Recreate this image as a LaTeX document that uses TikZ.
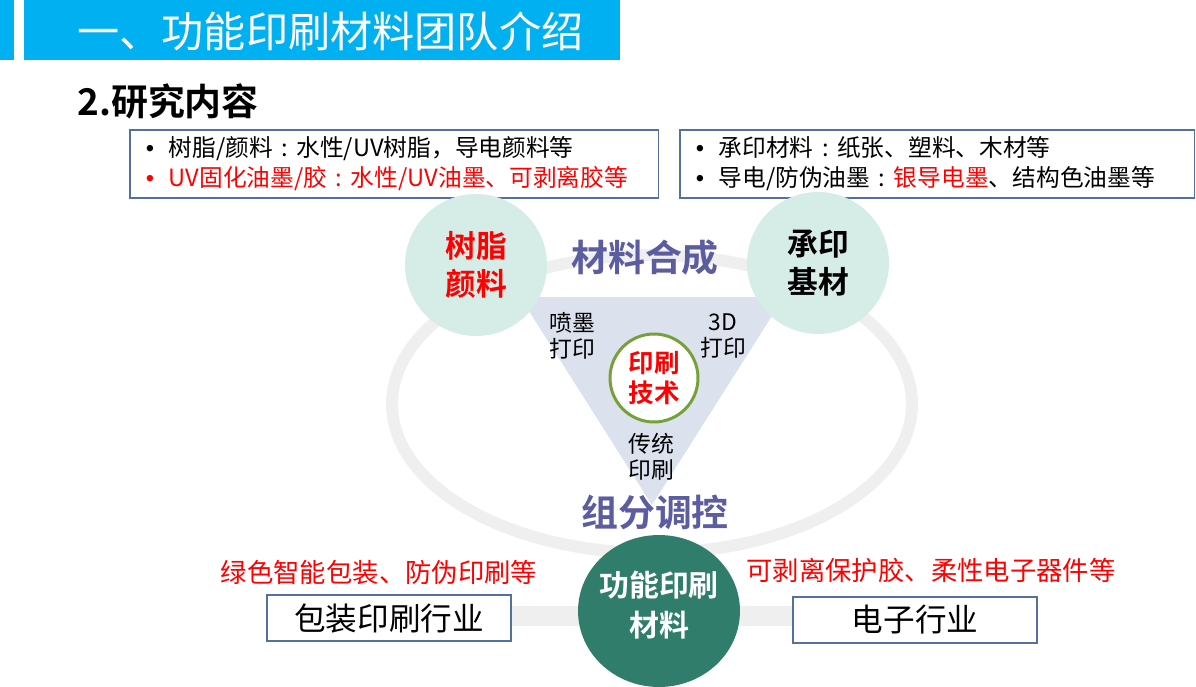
\documentclass[tikz,border=0pt]{standalone}
\usepackage{fontspec}
\setmainfont{Noto Sans CJK SC}[BoldFont={Noto Sans CJK SC Bold}]
\newfontfamily\dotfont{Liberation Sans}
\usepackage{xcolor}
\usetikzlibrary{shapes.geometric}

\definecolor{titleblue}{RGB}{0,176,240}
\definecolor{boxblue}{RGB}{82,112,160}
\definecolor{ringgray}{RGB}{239,239,239}
\definecolor{trifill}{RGB}{220,225,238}
\definecolor{circfill}{RGB}{213,236,231}
\definecolor{phasepurple}{RGB}{92,92,160}
\definecolor{techgreen}{RGB}{119,160,58}
\definecolor{coregreen}{RGB}{49,125,108}

\newcommand{\itemdot}{\makebox[13pt][l]{\dotfont •}}
\newcommand{\wcolon}{\makebox[1em][c]{:}}

\tikzset{
  infobox/.style={draw=boxblue, line width=0.9pt, fill=white, anchor=north west,
    inner xsep=0.32cm, align=left, font=\fontsize{13.5}{17}\selectfont},
  topic/.style={circle, fill=circfill, minimum size=2.84cm, inner sep=0pt,
    align=center, font=\bfseries\fontsize{17.5}{22}\selectfont},
  phase/.style={text=phasepurple, inner sep=0pt, font=\bfseries\fontsize{21}{25}\selectfont},
  method/.style={align=center, inner sep=0pt, font=\fontsize{13}{15}\selectfont},
  field/.style={draw=boxblue, fill=white, line width=0.9pt, minimum width=4.88cm,
    minimum height=0.92cm, font=\fontsize{18}{22}\selectfont},
  note/.style={text=red, inner sep=0pt, font=\fontsize{15}{18}\selectfont}
}

\begin{document}
\begin{tikzpicture}[x=0.02cm,y=-0.02cm]
   \useasboundingbox (0,0) rectangle (1196,686);
   \fill[titleblue] (0,0) rectangle (14,60);
   \fill[titleblue] (24,0) rectangle (620,60);
   \node[anchor=west, text=white, inner sep=0pt, font=\fontsize{24}{28}\selectfont] (title) at (77,31) {一、功能印刷材料团队介绍};
   \node[anchor=west, inner sep=0pt, font=\bfseries\fontsize{21}{25}\selectfont] (sub) at (77,101) {2.研究内容};

   \node[infobox, minimum width=10.58cm, minimum height=1.36cm, text width=9.94cm] (resinbox) at (129,129)
     {\itemdot 树脂/颜料\wcolon 水性/UV树脂，导电颜料等\\
      {\color{red}\itemdot UV固化油墨/胶\wcolon 水性/UV油墨、可剥离胶等}};
   \node[infobox, minimum width=10.3cm, minimum height=1.36cm, text width=9.66cm] (basebox) at (679,129)
     {\itemdot 承印材料\wcolon 纸张、塑料、木材等\\
      \itemdot 导电/防伪油墨\wcolon {\color{red}银导电墨}、结构色油墨等};

   \draw[ringgray, line width=6.8pt] (652,404) ellipse [x radius=260, y radius=149];
   \fill[ringgray] (400,606) rectangle (900,626);
   \fill[trifill] (520,297) -- (784,297) -- (652,505) -- cycle;

   \node[topic, text=red] (resin) at (476,265) {树脂\\颜料};
   \node[topic] (base) at (818,263) {承印\\基材};
   \node[phase] (synth) at (645,258) {材料合成};
   \node[phase] (tune) at (655,512) {组分调控};

   \node[method] (inkjet) at (572,336) {喷墨\\打印};
   \node[method] (print3d) at (723,336) {3D\\打印};
   \node[method] (classic) at (651,457) {传统\\印刷};
   \node[circle, draw=techgreen, line width=1.7pt, fill=white, minimum size=1.76cm, inner sep=0pt,
     text=red, align=center, font=\bfseries\fontsize{14.5}{17}\selectfont] (tech) at (654,378) {印刷\\技术};

   \node[ellipse, fill=coregreen, minimum width=3.24cm, minimum height=3.04cm, inner sep=0pt] (core) at (659,611) {};
   \node[text=white, align=center, inner sep=0pt, font=\bfseries\fontsize{17}{23}\selectfont] (coretext) at (659,605) {功能印刷\\材料};
   \node[field] (pack) at (389,618) {包装印刷行业};
   \node[field] (elec) at (915,620) {电子行业};
   \node[note] (packnote) at (379,572) {绿色智能包装、防伪印刷等};
   \node[note] (elecnote) at (931,570) {可剥离保护胶、柔性电子器件等};
\end{tikzpicture}
\end{document}
